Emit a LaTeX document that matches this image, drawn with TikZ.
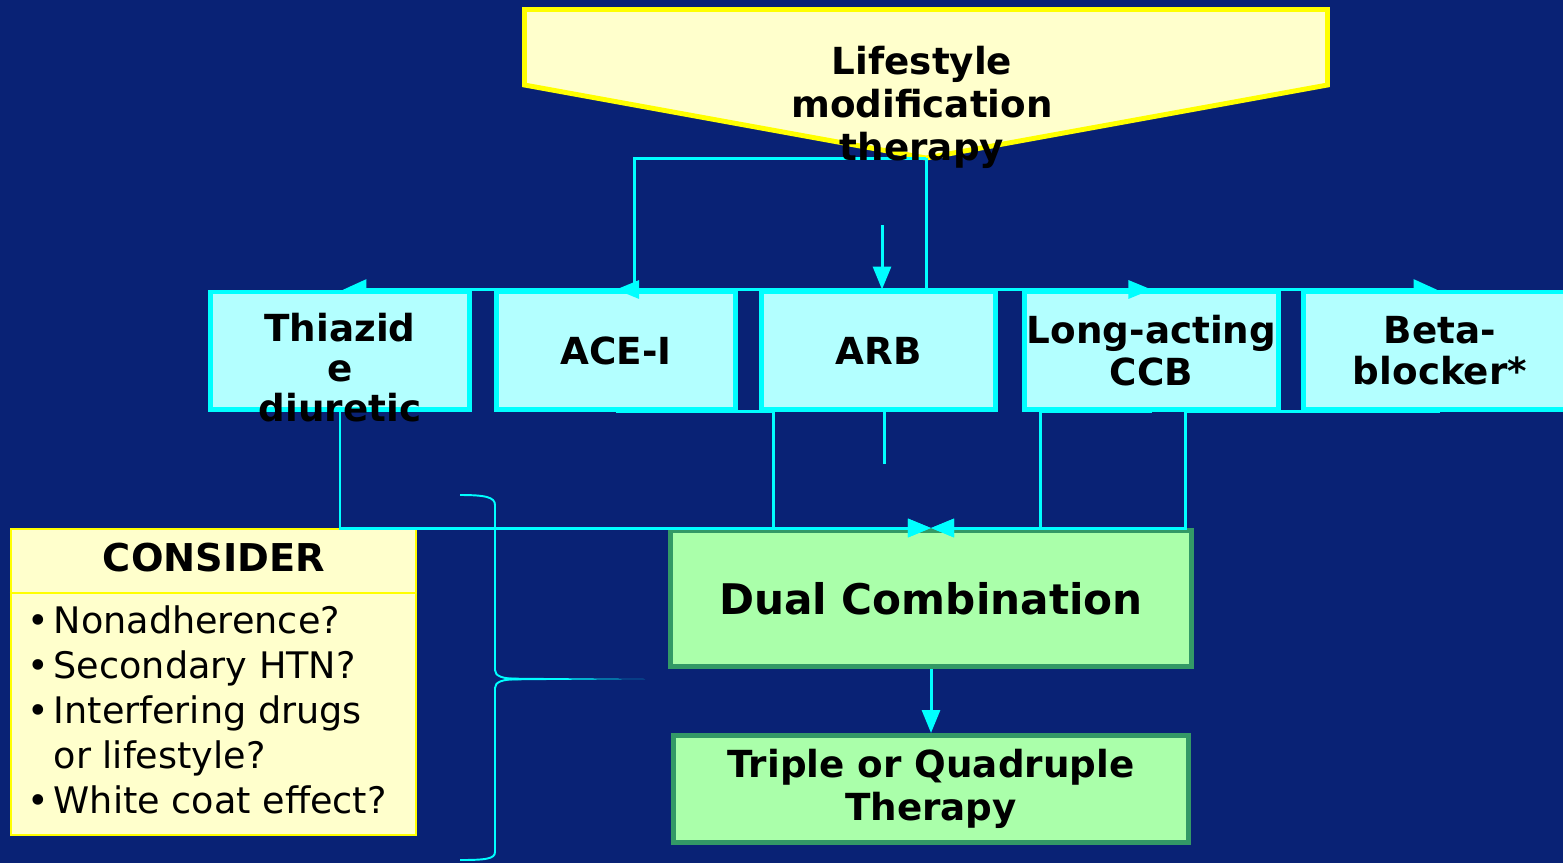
\documentclass[tikz,border=0pt]{standalone}
\usepackage{fontspec}
\setmainfont{DejaVu Sans}
\usetikzlibrary{arrows.meta}

\definecolor{navy}{RGB}{9,34,117}
\definecolor{aqua}{RGB}{0,255,255}
\definecolor{aquafill}{RGB}{179,255,255}
\definecolor{cream}{RGB}{255,255,204}
\definecolor{lemon}{RGB}{255,255,0}
\definecolor{mint}{RGB}{170,255,170}
\definecolor{leaf}{RGB}{51,153,102}

\newcommand\drugfont{\fontsize{10.6}{11.8}\selectfont\bfseries}
\newcommand\listfont{\fontsize{10.4}{12.8}\selectfont}
\newcommand\itm{\makebox[7.4pt][l]{•}}

\begin{document}
\begin{tikzpicture}[x=0.01cm,y=-0.01cm,
    drug/.style={draw=aqua,line width=1.4pt,fill=aquafill,minimum width=#1,
      minimum height=1.17cm,inner sep=0pt,align=center,font=\drugfont},
    combo/.style={draw=leaf,line width=1.4pt,fill=mint,inner sep=0pt,align=center},
    conn/.style={draw=aqua,line width=0.85pt},
    tip/.style={-{Triangle[length=0.23cm,width=0.18cm]}},
    halftip/.style={-{Triangle[length=0.23cm,width=0.2cm,harpoon,#1]}},
    brace/.style={draw=aqua,line width=0.55pt}]
   % Page and background
   \path[use as bounding box] (0,0) rectangle (1563,863);
   \clip (0,0) rectangle (1563,863);
   \fill[navy] (0,0) rectangle (1563,863);

   % Lifestyle arrow shape
   \draw[lemon,line width=1.4pt,fill=cream] (524.5,9.5) -- (1327.5,9.5) -- (1327.5,85)
     -- (926,158) coordinate (lifetip) -- (524.5,85) -- cycle;

   % Drug classes
   \node[drug=2.58cm] (thz) at (340,350.5) {};
   \node[drug=2.38cm] (ace) at (616,350.5) {ACE-I};
   \node[drug=2.33cm] (arb) at (878.5,350.5) {ARB};
   \node[drug=2.53cm] (ccb) at (1151.5,350.5) {Long-acting\\CCB};
   \node[drug=2.72cm] (beta) at (1440,350.5) {Beta-\\blocker*};

   % Combination boxes
   \node[combo,minimum width=5.21cm,minimum height=1.36cm,
     font=\fontsize{12}{14}\selectfont\bfseries] (dual) at (931,598.5) {Dual Combination};
   \node[combo,minimum width=5.15cm,minimum height=1.07cm,
     font=\fontsize{10.6}{12.2}\selectfont\bfseries] (triple) at (931,789) {Triple or Quadruple\\Therapy};

   % Consider box
   \node[draw=lemon,line width=0.6pt,fill=cream,minimum width=4.05cm,minimum height=3.06cm,
     inner sep=0pt] (cons) at (213.5,682) {};
   \coordinate (sep) at (0,593);
   \draw[lemon,line width=0.6pt] (cons.west |- sep) -- (cons.east |- sep);
   \node[font=\fontsize{10.9}{13}\selectfont\bfseries] (head) at (214,558) {CONSIDER};
   \node[anchor=north west,align=left,inner sep=0pt,font=\listfont] (todo) at (27,605)
     {\itm Nonadherence?\\ \itm Secondary HTN?\\ \itm Interfering drugs\\
      \hphantom{\itm}or lifestyle?\\ \itm White coat effect?};

   % Connectors from lifestyle
   \draw[conn] (lifetip) -- (lifetip |- thz.north) coordinate (hub);
   \draw[conn,halftip=swap] (hub) -- (thz.north);
   \draw[conn,tip] (hub) -- (ccb.north);
   \draw[conn,halftip=] (hub) -- (beta.north);
   \draw[conn,tip] (lifetip) -| ([xshift=0.18cm]ace.north) -- (ace.north);
   \coordinate (arbin) at (882,225);
   \draw[conn,tip] (arbin) -- (arbin |- arb.north);

   % Connectors to dual combination
   \draw[conn,tip] (thz.south) |- (dual.north);
   \draw[conn,tip] (ace.south) -- ++(157,0) |- (dual.north);
   \draw[conn,tip] (ccb.south) -- ++(-111,0) |- (dual.north);
   \draw[conn,tip] (beta.south) -- ++(-255,0) |- (dual.north);
   \draw[conn] ([xshift=0.055cm]arb.south) -- ++(0,52);
   \draw[conn,tip] (dual.south) -- (triple.north);

   % Brace
   \draw[brace] (460,495) .. controls (485,495) and (495,497) .. (495,505) -- (495,670)
     .. controls (495,676) and (502,679) .. (520,679)
     .. controls (502,679) and (495,682) .. (495,688) -- (495,852)
     .. controls (495,859) and (485,860) .. (460,860);
   \fill[aqua] (505,677.6) -- (645,679) -- (505,680.4) -- cycle;

   % Texts on top
   \node[align=center,font=\fontsize{10.6}{12.2}\selectfont\bfseries] (lifetxt) at (922,107)
     {Lifestyle\\modification\\therapy};
   \node[align=center,font=\fontsize{10.6}{11.4}\selectfont\bfseries] (thztxt) at (340,367.5)
     {Thiazid\\e\\diuretic};
\end{tikzpicture}
\end{document}
